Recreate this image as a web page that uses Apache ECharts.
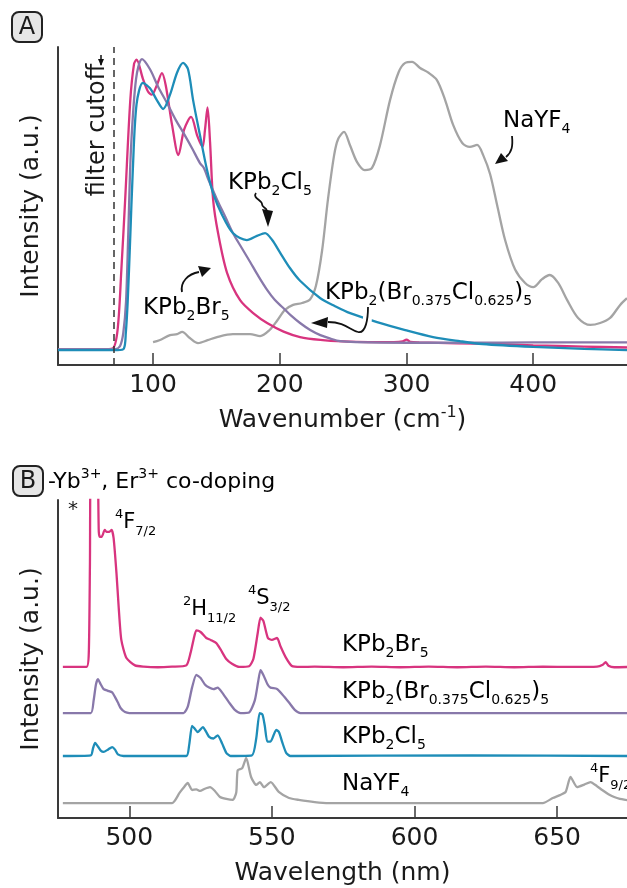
<!DOCTYPE html>
<html>
<head>
<meta charset="utf-8">
<script src="https://cdn.jsdelivr.net/npm/echarts@6/dist/echarts.min.js"></script>
<style>
  html, body { margin: 0; padding: 0; background: #fff; }
  #chart { width: 627px; height: 888px; }
</style>
</head>
<body>
<div id="chart"></div>
<script>
// Panel A: low-frequency Raman-like spectra (wavenumber, cm-1)
const ticksA = [100, 200, 300, 400]
const filterCutoff = 69

const wnBr = [25, 60, 68, 72, 75, 78, 82, 85, 87, 92, 96, 99, 103, 107, 110, 115, 120, 124.5, 130, 135, 139, 141, 143, 145, 147.4, 151.3, 158.4, 168.7, 180, 190, 203, 216, 232, 250, 270, 290, 297, 300, 303, 310, 340, 370, 400, 440, 474]
const intBr = [0.05, 0.05, 0.052, 0.11, 0.3, 0.52, 0.83, 0.947, 0.96, 0.9, 0.86, 0.85, 0.88, 0.918, 0.88, 0.755, 0.66, 0.74, 0.78, 0.72, 0.686, 0.74, 0.81, 0.7, 0.52, 0.415, 0.29, 0.204, 0.16, 0.132, 0.105, 0.088, 0.079, 0.074, 0.072, 0.072, 0.074, 0.08, 0.073, 0.071, 0.068, 0.066, 0.062, 0.058, 0.055]

const wnMix = [25, 60, 70, 74, 76.5, 78.7, 80.5, 82.6, 86.6, 91.3, 97.6, 104, 111, 118, 125, 131, 137, 140, 144, 150.5, 157, 163, 170, 176.6, 183, 190, 196, 202.6, 209, 216, 224, 232, 240, 247.6, 260, 300, 350, 400, 474]
const intMix = [0.05, 0.05, 0.05, 0.06, 0.1, 0.2, 0.42, 0.68, 0.9, 0.962, 0.93, 0.875, 0.824, 0.77, 0.723, 0.68, 0.635, 0.62, 0.58, 0.52, 0.466, 0.415, 0.368, 0.324, 0.28, 0.236, 0.205, 0.18, 0.155, 0.132, 0.11, 0.094, 0.083, 0.075, 0.072, 0.07, 0.07, 0.071, 0.071]

const wnCl = [25, 60, 72, 77, 78.5, 80, 82, 84, 87, 92, 97.6, 103, 108, 113.4, 119, 123.7, 127.6, 131.6, 137, 142.6, 147.4, 154.5, 163, 174, 182, 188.4, 194, 200, 208, 216, 232, 243.6, 255.5, 276.8, 299, 321, 342, 360, 400, 440, 474]
const intCl = [0.047, 0.047, 0.047, 0.052, 0.1, 0.2, 0.4, 0.61, 0.82, 0.887, 0.87, 0.833, 0.805, 0.85, 0.92, 0.95, 0.93, 0.833, 0.723, 0.613, 0.54, 0.472, 0.415, 0.393, 0.406, 0.415, 0.393, 0.355, 0.305, 0.265, 0.21, 0.185, 0.163, 0.135, 0.11, 0.088, 0.075, 0.066, 0.057, 0.051, 0.047]

const wnNa = [100, 105, 113.4, 119, 123, 129, 135.5, 143, 150.5, 163, 176.6, 184.5, 192, 198, 204, 210.5, 217.6, 224, 228.6, 233.4, 238, 242.9, 246, 250.7, 255.5, 261, 267, 272.8, 279, 287, 293.7, 299, 304.4, 310.7, 317, 324, 330.5, 336.8, 344, 350, 355.7, 360.5, 366, 371.5, 377.8, 385.7, 393.6, 400, 407, 413, 419.7, 426.8, 435.4, 445, 452.8, 460.7, 468.6, 474]
const intNa = [0.072, 0.078, 0.094, 0.097, 0.104, 0.085, 0.069, 0.078, 0.088, 0.097, 0.097, 0.091, 0.11, 0.14, 0.173, 0.189, 0.195, 0.207, 0.25, 0.36, 0.52, 0.66, 0.71, 0.733, 0.69, 0.638, 0.613, 0.62, 0.69, 0.833, 0.92, 0.95, 0.953, 0.934, 0.92, 0.896, 0.833, 0.755, 0.698, 0.686, 0.692, 0.66, 0.6, 0.503, 0.393, 0.3, 0.258, 0.245, 0.27, 0.283, 0.258, 0.204, 0.148, 0.126, 0.132, 0.148, 0.189, 0.21]

// Panel B: upconversion emission, stacked with offsets (wavelength, nm)
const ticksB = [500, 550, 600, 650]

const nmBr = [476.7, 485, 485.8, 486.2, 486.6, 488.6, 489.3, 489.6, 490.3, 491.4, 492, 493, 493.8, 494.5, 495.5, 496.3, 497.2, 499, 502, 505, 510, 515, 520, 521.5, 522.5, 523.5, 525, 527, 528.5, 530.5, 532, 534, 536, 538.6, 542, 543.5, 545, 546, 547, 548.6, 550, 551.8, 553, 554.8, 557, 560, 565, 575, 585, 595, 605, 615, 625, 635, 645, 655, 664, 666, 667, 668, 670, 675]
const intBrB = [0.475, 0.475, 0.52, 0.8, 1.15, 1.15, 0.9, 0.885, 0.884, 0.906, 0.9, 0.9, 0.906, 0.88, 0.77, 0.66, 0.56, 0.503, 0.48, 0.476, 0.474, 0.476, 0.48, 0.52, 0.56, 0.59, 0.585, 0.566, 0.56, 0.55, 0.53, 0.5, 0.485, 0.475, 0.477, 0.5, 0.58, 0.63, 0.62, 0.566, 0.56, 0.566, 0.54, 0.506, 0.478, 0.475, 0.476, 0.474, 0.476, 0.474, 0.476, 0.474, 0.476, 0.474, 0.476, 0.475, 0.476, 0.482, 0.49, 0.479, 0.474, 0.475]

const nmMix = [476.7, 486.5, 487.5, 488.3, 489, 490, 491, 492.5, 494, 495, 496, 497, 498.5, 500, 519, 520.5, 522, 523.5, 525, 526.5, 528, 529.5, 531, 532.5, 535, 537, 539, 542, 544, 545.2, 546, 547, 548.5, 549.5, 551.8, 553.5, 556, 558, 560, 600, 675]
const intMixB = [0.33, 0.33, 0.37, 0.42, 0.437, 0.42, 0.405, 0.4, 0.395, 0.38, 0.363, 0.345, 0.333, 0.33, 0.33, 0.35, 0.41, 0.45, 0.44, 0.42, 0.41, 0.405, 0.41, 0.395, 0.363, 0.34, 0.33, 0.332, 0.37, 0.43, 0.465, 0.45, 0.42, 0.41, 0.406, 0.39, 0.363, 0.34, 0.33, 0.33, 0.33]

const nmCl = [476.7, 486.5, 487.3, 488, 489, 490, 491, 492.5, 494, 495, 496, 498, 520, 521, 522, 523, 524, 525.8, 527, 528, 529.5, 531, 532.5, 534, 535.5, 543, 544.5, 545.7, 546.7, 547.5, 548.4, 549.5, 551.5, 552.5, 553.7, 555, 556.5, 620, 675]
const intClB = [0.195, 0.197, 0.22, 0.236, 0.225, 0.212, 0.208, 0.215, 0.223, 0.215, 0.2, 0.195, 0.195, 0.23, 0.29, 0.28, 0.27, 0.286, 0.27, 0.255, 0.25, 0.26, 0.235, 0.205, 0.195, 0.197, 0.25, 0.33, 0.325, 0.29, 0.24, 0.24, 0.277, 0.27, 0.236, 0.205, 0.195, 0.197, 0.195]

const nmNa = [476.7, 515, 517.6, 519, 520.5, 521.3, 522, 523.5, 524.8, 526.5, 528.3, 530, 531.8, 534, 536.3, 537.5, 538, 539.6, 541, 542.7, 544.5, 545.8, 547.2, 549.6, 552.4, 556, 559.4, 565, 570, 645, 648.5, 651, 653, 654.7, 657, 659.5, 661.7, 664, 665.8, 668, 670, 672, 674, 675]
const intNaB = [0.047, 0.047, 0.079, 0.095, 0.11, 0.098, 0.088, 0.09, 0.085, 0.092, 0.097, 0.085, 0.066, 0.06, 0.057, 0.08, 0.15, 0.157, 0.189, 0.129, 0.104, 0.113, 0.097, 0.113, 0.082, 0.063, 0.057, 0.05, 0.047, 0.047, 0.063, 0.072, 0.082, 0.129, 0.097, 0.105, 0.113, 0.1, 0.088, 0.075, 0.066, 0.06, 0.057, 0.056]

const PINK = '#d8347f'
const PURPLE = '#8878aa'
const TEAL = '#1e8db8'
const GRAY = '#a4a4a4'
const INK = '#1a1a1a'
const AXIS = '#3a3a3a'
const FONT = 'DejaVu Sans'

function zip(xs, ys) {
  return xs.map((x, i) => [x, ys[i]])
}

// 富文本样式：n 正文，sub 下标，sup 上标
function rich(size) {
  const small = Math.round(size * 0.62)
  return {
    n: { fontSize: size, fontFamily: FONT, color: INK, lineHeight: 30, verticalAlign: 'middle' },
    sub: { fontSize: small, fontFamily: FONT, color: INK, lineHeight: 20, verticalAlign: 'bottom' },
    sup: { fontSize: small, fontFamily: FONT, color: INK, lineHeight: 14, verticalAlign: 'top' },
  }
}

function label(text, x, y, size) {
  return {
    type: 'text', z: 20,
    style: { text, x, y, rich: rich(size || 23), align: 'left', verticalAlign: 'middle' },
  }
}

// 注释箭头：若干段三次贝塞尔 + 三角箭头；halo 为白色衬底（遮住被穿过的曲线）
function arrow(segs, tip, b1, b2, halo) {
  const curve = (s, z, stroke, lineWidth) => ({
    type: 'bezierCurve', z,
    shape: { x1: s[0], y1: s[1], cpx1: s[2], cpy1: s[3], cpx2: s[4], cpy2: s[5], x2: s[6], y2: s[7] },
    style: { fill: null, stroke, lineWidth },
  })
  const out = []
  if (halo) out.push(curve(halo, 18, '#fff', 9))
  segs.forEach(s => out.push(curve(s, 19, '#111', 1.8)))
  out.push({ type: 'polygon', z: 19, shape: { points: [tip, b1, b2] }, style: { fill: '#111' } })
  return out
}

function panelBox(letter, x, y) {
  return [
    { type: 'rect', z: 20, shape: { x, y, width: 30, height: 30, r: 7 }, style: { fill: '#e6e6e6', stroke: '#222', lineWidth: 2 } },
    { type: 'text', z: 21, style: { text: letter, x: x + 15, y: y + 16, font: '24px "DejaVu Sans"', fill: INK, align: 'center', verticalAlign: 'middle' } },
  ]
}

function xAxisCfg(grid, min, max, ticks, name) {
  return {
    gridIndex: grid, type: 'value', min, max,
    axisLine: { onZero: false, lineStyle: { color: AXIS, width: 2 } },
    axisTick: { inside: true, length: 12, customValues: ticks, lineStyle: { color: AXIS, width: 1.5 } },
    axisLabel: { customValues: ticks, fontSize: 25, fontFamily: FONT, color: INK, margin: 8 },
    splitLine: { show: false },
    name, nameLocation: 'middle', nameGap: 40,
    nameTextStyle: { rich: rich(25) },
  }
}

function yAxisCfg(grid) {
  return {
    gridIndex: grid, type: 'value', min: 0, max: 1,
    axisLine: { show: true, lineStyle: { color: AXIS, width: 2 } },
    axisTick: { show: false }, axisLabel: { show: false }, splitLine: { show: false },
    name: 'Intensity (a.u.)', nameLocation: 'middle', nameGap: 14, nameRotate: 90,
    nameTextStyle: { fontSize: 25, fontFamily: FONT, color: INK },
  }
}

function line(data, color, xi, smooth, extra) {
  return Object.assign({
    type: 'line', xAxisIndex: xi, yAxisIndex: xi, data, showSymbol: false, smooth,
    lineStyle: { color, width: 2.3 }, itemStyle: { color }, clip: true,
  }, extra || {})
}

const chart = echarts.init(document.getElementById('chart'), null, { renderer: 'canvas' })

chart.setOption({
  animation: false,
  backgroundColor: '#fff',
  grid: [
    { left: 58, right: 0, top: 47, height: 318 },
    { left: 58, right: 0, top: 500, height: 318 },
  ],
  xAxis: [
    xAxisCfg(0, 25, 474, ticksA, '{n|Wavenumber (cm}{sup|-1}{n|)}'),
    xAxisCfg(1, 475, 674.5, ticksB, '{n|Wavelength (nm)}'),
  ],
  yAxis: [yAxisCfg(0), yAxisCfg(1)],
  series: [
    line(zip(wnNa, intNa), GRAY, 0, 0.3),
    line(zip(wnBr, intBr), PINK, 0, 0.3),
    line(zip(wnMix, intMix), PURPLE, 0, 0.3),
    line(zip(wnCl, intCl), TEAL, 0, 0.3, {
      markLine: {
        silent: true, symbol: ['none', 'none'], label: { show: false },
        lineStyle: { type: [7, 5], color: '#333', width: 1.5 },
        data: [{ xAxis: filterCutoff }],
      },
    }),
    line(zip(nmNa, intNaB), GRAY, 1, 0.2),
    line(zip(nmCl, intClB), TEAL, 1, 0.2),
    line(zip(nmMix, intMixB), PURPLE, 1, 0.2),
    line(zip(nmBr, intBrB), PINK, 1, 0.2),
  ],
  graphic: [
    ...panelBox('A', 12, 12),
    ...panelBox('B', 13, 466),
    {
      type: 'text', z: 20, x: 98, y: 130, rotation: Math.PI / 2,
      style: { text: 'filter cutoff', font: '24px "DejaVu Sans"', fill: INK, align: 'center', verticalAlign: 'middle' },
    },
    { type: 'line', z: 20, shape: { x1: 101, y1: 55, x2: 101, y2: 65 }, style: { stroke: '#111', lineWidth: 1.5 } },
    { type: 'polygon', z: 20, shape: { points: [[101, 66], [98, 59], [104, 59]] }, style: { fill: '#111' } },

    label('{n|KPb}{sub|2}{n|Cl}{sub|5}', 228, 183),
    ...arrow([[256, 193, 252, 198, 262, 200, 262, 204], [262, 204, 262, 208, 266, 207, 267, 211]], [268, 227], [262, 209], [273, 211]),
    label('{n|KPb}{sub|2}{n|Br}{sub|5}', 143, 308),
    ...arrow([[182, 292, 180, 282, 188, 274, 199, 272]], [211, 268], [198, 266], [202, 277]),
    label('{n|KPb}{sub|2}{n|(Br}{sub|0.375}{n|Cl}{sub|0.625}{n|)}{sub|5}', 325, 293),
    ...arrow([[368, 307, 368, 318, 366, 334, 358, 332], [358, 332, 350, 330, 345, 322, 328, 322]], [311, 323], [328, 317], [327, 328],
      [368, 309, 368, 315, 367, 324, 365, 330]),
    label('{n|NaYF}{sub|4}', 503, 121),
    ...arrow([[512, 136, 513, 146, 512, 152, 506, 157]], [495, 164], [501, 153], [508, 161]),

    label('{n|-Yb}{sup|3+}{n|, Er}{sup|3+}{n| co-doping}', 48, 482, 22),
    { type: 'text', z: 20, style: { text: '*', x: 73, y: 510, font: '20px "DejaVu Sans"', fill: INK, align: 'center', verticalAlign: 'middle' } },
    label('{sup|4}{n|F}{sub|7/2}', 115, 523, 21),
    label('{sup|2}{n|H}{sub|11/2}', 183, 610, 21),
    label('{sup|4}{n|S}{sub|3/2}', 248, 599, 21),
    label('{n|KPb}{sub|2}{n|Br}{sub|5}', 342, 645),
    label('{n|KPb}{sub|2}{n|(Br}{sub|0.375}{n|Cl}{sub|0.625}{n|)}{sub|5}', 342, 692),
    label('{n|KPb}{sub|2}{n|Cl}{sub|5}', 342, 737),
    label('{n|NaYF}{sub|4}', 342, 784),
    label('{sup|4}{n|F}{sub|9/2}', 590, 777, 21),
  ],
})
</script>
</body>
</html>
